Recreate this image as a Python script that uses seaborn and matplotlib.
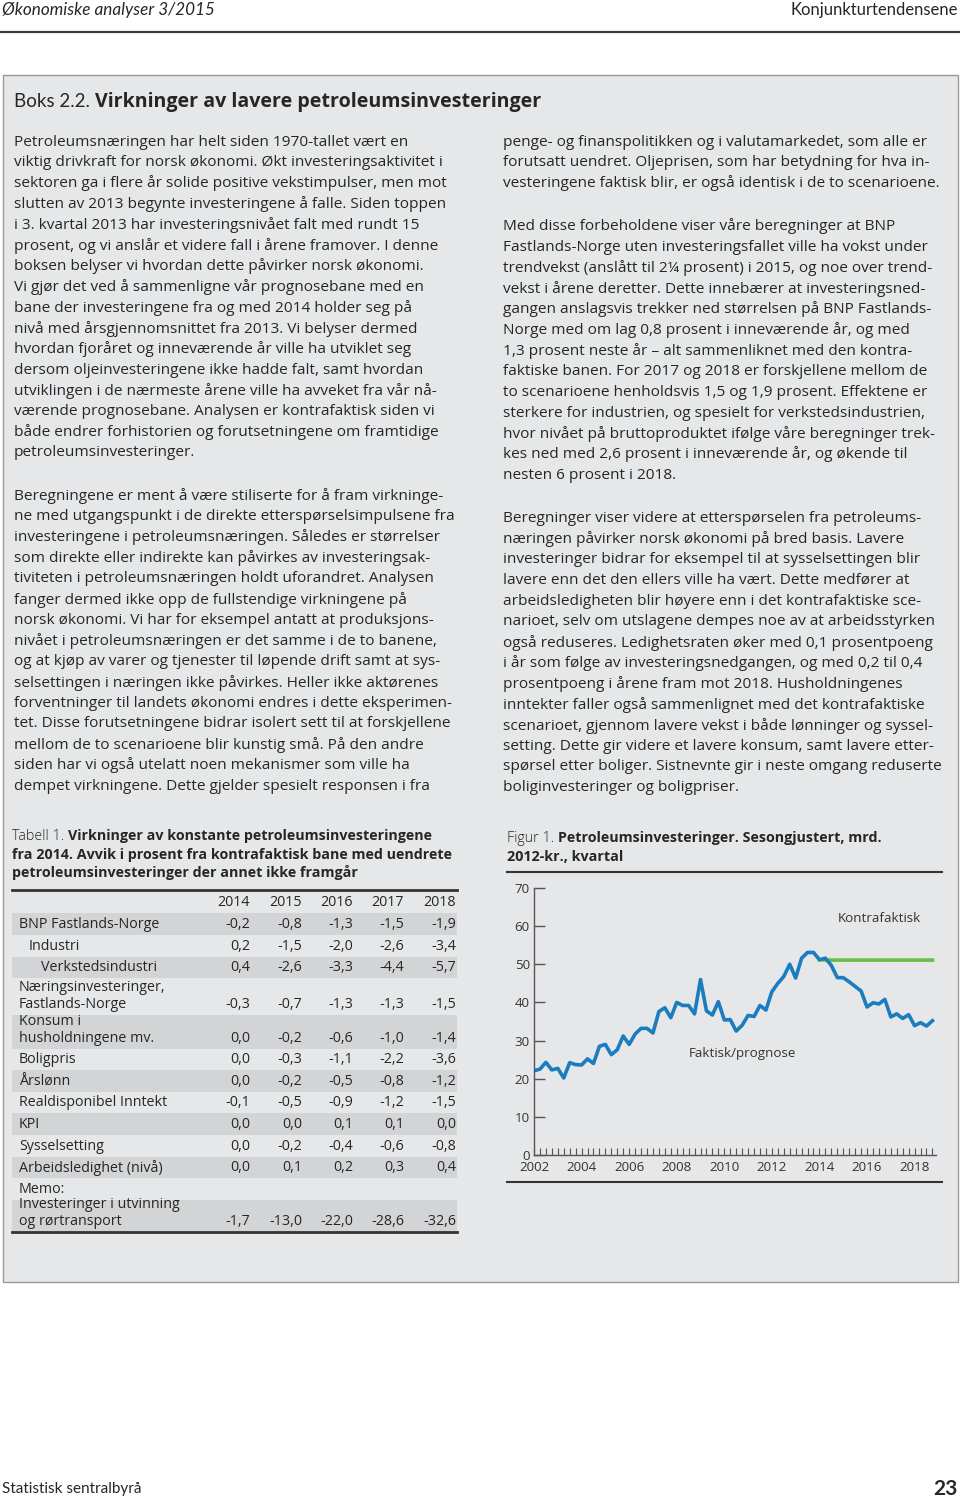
import numpy as np
import pandas as pd
import seaborn as sns
import matplotlib.pyplot as plt
from matplotlib.patches import Rectangle

plt.rcParams['font.family'] = ['Open Sans', 'DejaVu Sans']

# ---------------- data: figure 1 ----------------
quarters = pd.period_range("2002Q1", "2018Q4", freq="Q")
faktisk = [22.1, 22.5, 24.3, 22.3, 22.7, 20.2, 24.2, 23.7,
           23.6, 25.2, 24.0, 28.5, 29.0, 26.3, 27.6, 31.2,
           29.0, 31.7, 33.2, 33.2, 32.0, 37.6, 38.6, 36.0,
           40.0, 39.2, 39.2, 37.0, 46.0, 37.8, 36.7, 40.2,
           35.4, 35.5, 32.5, 34.0, 36.6, 36.3, 39.2, 38.0,
           42.8, 45.0, 46.8, 50.0, 46.4, 51.6, 53.1, 53.1,
           51.2, 51.6, 49.7, 46.5, 46.5, 45.4, 44.2, 43.0,
           38.8, 39.9, 39.6, 40.8, 36.2, 37.0, 35.8, 36.8,
           33.9, 34.7, 33.8, 35.2]
kontra_quarters = pd.period_range("2014Q1", "2018Q4", freq="Q")
kontrafaktisk = [51.2, 51.1, 51.1, 51.1, 51.1, 51.1, 51.1, 51.1, 51.1, 51.1,
                 51.1, 51.1, 51.1, 51.1, 51.1, 51.1, 51.1, 51.1, 51.1, 51.1]
year_ticks = [2002, 2004, 2006, 2008, 2010, 2012, 2014, 2016, 2018]
y_ticks = [0, 10, 20, 30, 40, 50, 60, 70]

# ---------------- data: table 1 ----------------
tab_years = ["2014", "2015", "2016", "2017", "2018"]
tab_labels = [["BNP Fastlands-Norge"], ["Industri"], ["Verkstedsindustri"],
              ["Næringsinvesteringer,", "Fastlands-Norge"],
              ["Konsum i", "husholdningene mv."], ["Boligpris"], ["Årslønn"],
              ["Realdisponibel Inntekt"], ["KPI"], ["Sysselsetting"],
              ["Arbeidsledighet (nivå)"], ["Memo:"],
              ["Investeringer i utvinning", "og rørtransport"]]
tab_indent = [0, 10, 22, 0, 0, 0, 0, 0, 0, 0, 0, 0, 0]
v2014 = [-0.2, 0.2, 0.4, -0.3, 0.0, 0.0, 0.0, -0.1, 0.0, 0.0, 0.0, None, -1.7]
v2015 = [-0.8, -1.5, -2.6, -0.7, -0.2, -0.3, -0.2, -0.5, 0.0, -0.2, 0.1, None, -13.0]
v2016 = [-1.3, -2.0, -3.3, -1.3, -0.6, -1.1, -0.5, -0.9, 0.1, -0.4, 0.2, None, -22.0]
v2017 = [-1.5, -2.6, -4.4, -1.3, -1.0, -2.2, -0.8, -1.2, 0.1, -0.6, 0.3, None, -28.6]
v2018 = [-1.9, -3.4, -5.7, -1.5, -1.4, -3.6, -1.2, -1.5, 0.0, -0.8, 0.4, None, -32.6]

# ---------------- body text ----------------
left_paras = [
    ["Petroleumsnæringen har helt siden 1970-tallet vært en",
     "viktig drivkraft for norsk økonomi. Økt investeringsaktivitet i",
     "sektoren ga i flere år solide positive vekstimpulser, men mot",
     "slutten av 2013 begynte investeringene å falle. Siden toppen",
     "i 3. kvartal 2013 har investeringsnivået falt med rundt 15",
     "prosent, og vi anslår et videre fall i årene framover. I denne",
     "boksen belyser vi hvordan dette påvirker norsk økonomi.",
     "Vi gjør det ved å sammenligne vår prognosebane med en",
     "bane der investeringene fra og med 2014 holder seg på",
     "nivå med årsgjennomsnittet fra 2013. Vi belyser dermed",
     "hvordan fjoråret og inneværende år ville ha utviklet seg",
     "dersom oljeinvesteringene ikke hadde falt, samt hvordan",
     "utviklingen i de nærmeste årene ville ha avveket fra vår nå-",
     "værende prognosebane. Analysen er kontrafaktisk siden vi",
     "både endrer forhistorien og forutsetningene om framtidige",
     "petroleumsinvesteringer."],
    ["Beregningene er ment å være stiliserte for å fram virkninge-",
     "ne med utgangspunkt i de direkte etterspørselsimpulsene fra",
     "investeringene i petroleumsnæringen. Således er størrelser",
     "som direkte eller indirekte kan påvirkes av investeringsak-",
     "tiviteten i petroleumsnæringen holdt uforandret. Analysen",
     "fanger dermed ikke opp de fullstendige virkningene på",
     "norsk økonomi. Vi har for eksempel antatt at produksjons-",
     "nivået i petroleumsnæringen er det samme i de to banene,",
     "og at kjøp av varer og tjenester til løpende drift samt at sys-",
     "selsettingen i næringen ikke påvirkes. Heller ikke aktørenes",
     "forventninger til landets økonomi endres i dette eksperimen-",
     "tet. Disse forutsetningene bidrar isolert sett til at forskjellene",
     "mellom de to scenarioene blir kunstig små. På den andre",
     "siden har vi også utelatt noen mekanismer som ville ha",
     "dempet virkningene. Dette gjelder spesielt responsen i fra"],
]
right_paras = [
    ["penge- og finanspolitikken og i valutamarkedet, som alle er",
     "forutsatt uendret. Oljeprisen, som har betydning for hva in-",
     "vesteringene faktisk blir, er også identisk i de to scenarioene."],
    ["Med disse forbeholdene viser våre beregninger at BNP",
     "Fastlands-Norge uten investeringsfallet ville ha vokst under",
     "trendvekst (anslått til 2¼ prosent) i 2015, og noe over trend-",
     "vekst i årene deretter. Dette innebærer at investeringsned-",
     "gangen anslagsvis trekker ned størrelsen på BNP Fastlands-",
     "Norge med om lag 0,8 prosent i inneværende år, og med",
     "1,3 prosent neste år – alt sammenliknet med den kontra-",
     "faktiske banen. For 2017 og 2018 er forskjellene mellom de",
     "to scenarioene henholdsvis 1,5 og 1,9 prosent. Effektene er",
     "sterkere for industrien, og spesielt for verkstedsindustrien,",
     "hvor nivået på bruttoproduktet ifølge våre beregninger trek-",
     "kes ned med 2,6 prosent i inneværende år, og økende til",
     "nesten 6 prosent i 2018."],
    ["Beregninger viser videre at etterspørselen fra petroleums-",
     "næringen påvirker norsk økonomi på bred basis. Lavere",
     "investeringer bidrar for eksempel til at sysselsettingen blir",
     "lavere enn det den ellers ville ha vært. Dette medfører at",
     "arbeidsledigheten blir høyere enn i det kontrafaktiske sce-",
     "narioet, selv om utslagene dempes noe av at arbeidsstyrken",
     "også reduseres. Ledighetsraten øker med 0,1 prosentpoeng",
     "i år som følge av investeringsnedgangen, og med 0,2 til 0,4",
     "prosentpoeng i årene fram mot 2018. Husholdningenes",
     "inntekter faller også sammenlignet med det kontrafaktiske",
     "scenarioet, gjennom lavere vekst i både lønninger og syssel-",
     "setting. Dette gir videre et lavere konsum, samt lavere etter-",
     "spørsel etter boliger. Sistnevnte gir i neste omgang reduserte",
     "boliginvesteringer og boligpriser."],
]

W, H = 960, 1502
TXT = "#262626"
BOX = "#e6e7e8"
SHADE = "#d3d4d6"
BLUE = "#1b7cc0"
GREEN = "#6cbd45"
NARROW = ["Lato", "DejaVu Sans"]

fig = plt.figure(figsize=(W / 100, H / 100), dpi=100)
fig.patch.set_facecolor("white")

# full-page canvas in pixel coordinates
cv = fig.add_axes([0, 0, 1, 1])
cv.set_xlim(0, W)
cv.set_ylim(H, 0)
cv.axis("off")
renderer = fig.canvas.get_renderer()


def put(x, y, s, size=11.1, weight="normal", **kw):
    kw.setdefault("va", "center")
    return cv.text(x, y, s, fontsize=size, fontweight=weight, color=TXT, **kw)


def put_after(prev, s, size, weight="bold", **kw):
    # continue on the same baseline right after an earlier text
    bb = prev.get_window_extent(renderer=renderer)
    x_end = cv.transData.inverted().transform((bb.x1, bb.y0))[0]
    return cv.text(x_end, prev.get_position()[1], s, fontsize=size, fontweight=weight,
                   color=TXT, va="baseline", ha="left", **kw)


# page header / footer
put(2, 10, "Økonomiske analyser 3/2015", size=12.3, style="italic", family=NARROW)
put(958, 10, "Konjunkturtendensene", size=12, ha="right", family=NARROW)
cv.plot([0, W], [32, 32], color="#3a3a3a", lw=1.6)
put(2, 1489, "Statistisk sentralbyrå", size=11, family=NARROW)
put(958, 1489, "23", size=15, weight="bold", ha="right", family=NARROW)

# grey box
cv.add_patch(Rectangle((3, 75), 955, 1207, facecolor=BOX, edgecolor="#9a9a9a", lw=1))
t = put(14, 107, "Boks 2.2. ", size=13.5, va="baseline", family=NARROW)
put_after(t, "Virkninger av lavere petroleumsinvesteringer", 14.1)

# body text columns
LH = 20.73
for x0, paras in [(14, left_paras), (503, right_paras)]:
    y = 142
    for para in paras:
        for line in para:
            put(x0, y, line)
            y += LH
        y += 43 - LH

# ---------------- table ----------------
TS = 10.3
t = put(12, 840, "Tabell 1. ", size=TS, weight="light", va="baseline")
put_after(t, "Virkninger av konstante petroleumsinvesteringene", TS)
put(12, 855, "fra 2014. Avvik i prosent fra kontrafaktisk bane med uendrete",
    size=TS, weight="bold")
put(12, 873, "petroleumsinvesteringer der annet ikke framgår", size=TS, weight="bold")

col_right = [250, 302, 353, 404, 456]
row_edges = [913, 935, 957, 978, 1015, 1049, 1070, 1092, 1113, 1135, 1157, 1178, 1200, 1232]
cv.plot([12, 457], [890, 890], color="#333333", lw=2)
for xr, yr in zip(col_right, tab_years):
    put(xr, 902, yr, size=TS, ha="right")
cols = [v2014, v2015, v2016, v2017, v2018]
for i, lab in enumerate(tab_labels):
    top, bot = row_edges[i], row_edges[i + 1]
    if i % 2 == 0:
        cv.add_patch(Rectangle((12, top), 445, bot - top, facecolor=SHADE, lw=0))
    yb = bot - 10.5
    for k, ln in enumerate(lab):
        put(19 + tab_indent[i], yb - 17 * (len(lab) - 1 - k), ln, size=TS)
    for xr, col in zip(col_right, cols):
        if col[i] is not None:
            put(xr, yb, f"{col[i]:.1f}".replace(".", ","), size=TS, ha="right")
cv.plot([12, 457], [1232, 1232], color="#333333", lw=2)

# ---------------- figure 1 ----------------
t = put(507, 842, "Figur 1. ", size=TS, weight="light", va="baseline")
put_after(t, "Petroleumsinvesteringer. Sesongjustert, mrd.", TS)
put(507, 857, "2012-kr., kvartal", size=TS, weight="bold")
cv.plot([507, 942], [872, 872], color="#333333", lw=1.5)
cv.plot([507, 942], [1182, 1182], color="#333333", lw=1.5)

x_dec = [q.year + (q.quarter - 1) / 4 for q in quarters]
x_kon = [q.year + (q.quarter - 1) / 4 for q in kontra_quarters]
df_f = pd.DataFrame({"tid": x_dec, "mrd": faktisk})
df_k = pd.DataFrame({"tid": x_kon, "mrd": kontrafaktisk})

ax = fig.add_axes([534 / W, 1 - 1155 / H, 402 / W, 267 / H])
ax.patch.set_alpha(0)
sns.lineplot(data=df_k, x="tid", y="mrd", ax=ax, color=GREEN, lw=2.6)
sns.lineplot(data=df_f, x="tid", y="mrd", ax=ax, color=BLUE, lw=2.6)
ax.set_xlim(2002, 2018.9)
ax.set_ylim(0, 70)
ax.set_xlabel("")
ax.set_ylabel("")
ax.set_yticks(y_ticks)
ax.set_xticks(year_ticks)
ax.set_xticks(x_dec, minor=True)
for s in ["top", "right"]:
    ax.spines[s].set_visible(False)
for s in ["left", "bottom"]:
    ax.spines[s].set_color("#555555")
    ax.spines[s].set_linewidth(1)
ax.tick_params(axis="y", direction="in", length=8, width=1, color="#555555",
               labelsize=9.6, labelcolor="#333333", pad=3)
ax.tick_params(axis="x", which="both", direction="in", length=5, width=0.8,
               color="#555555", labelsize=9.6, labelcolor="#333333", pad=4)
ax.text(2014.78, 62.1, "Kontrafaktisk", fontsize=9.6, color="#333333", va="center")
ax.text(2008.5, 26.7, "Faktisk/prognose", fontsize=9.6, color="#333333", va="center")

fig.savefig("out.png", dpi=100)
